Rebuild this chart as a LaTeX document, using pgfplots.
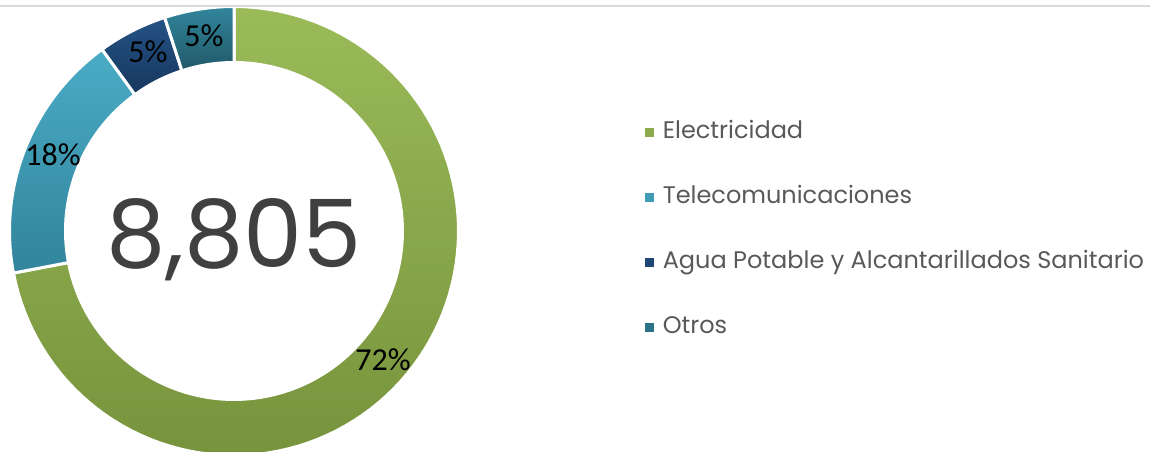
\documentclass[border=0pt]{standalone}
\usepackage{pgfplots}
\pgfplotsset{compat=1.18}
\usepackage{fontspec}
\setmainfont{Poppins}
\newfontfamily\calib{Carlito}
\definecolor{gEt}{HTML}{9BBB59}
\definecolor{gEb}{HTML}{77933C}
\definecolor{gTt}{HTML}{4BACC6}
\definecolor{gTb}{HTML}{31849B}
\definecolor{gAt}{HTML}{245285}
\definecolor{gAb}{HTML}{17375E}
\definecolor{gOt}{HTML}{31859C}
\definecolor{gOb}{HTML}{215968}
\definecolor{txtg}{HTML}{595959}
\definecolor{numg}{HTML}{404040}
\definecolor{lineg}{HTML}{D9D9D9}
% shares (percent)
\def\vE{72}\def\vT{18}\def\vA{5}\def\vO{5}
\pgfmathsetmacro\aE{90}
\pgfmathsetmacro\bE{\aE-3.6*\vE}
\pgfmathsetmacro\bT{\bE-3.6*\vT}
\pgfmathsetmacro\bA{\bT-3.6*\vA}
\pgfmathsetmacro\bO{\bA-3.6*\vO}
\begin{document}
\begin{tikzpicture}
\begin{axis}[
  name=main,
  x=0.75pt, y=0.75pt,
  xmin=0, xmax=1150, ymin=0, ymax=451,
  hide axis,
  declare function={
    ringang(\t,\a,\b)=ifthenelse(\t<1,\a+(\b-\a)*\t,ifthenelse(\t<2,\b,ifthenelse(\t<3,\b-(\b-\a)*(\t-2),\a)));
    ringrad(\t)=ifthenelse(\t<1,224.5,ifthenelse(\t<2,224.5-56*(\t-1),ifthenelse(\t<3,168.5,168.5+56*(\t-3))));
  },
  legend style={at={(axis cs:641,221)}, anchor=west, draw=none, fill=none,
    font=\fontsize{18}{21}\selectfont, text=txtg, row sep=32.25pt,
    nodes={inner sep=0pt, text height=12.5pt, text depth=4pt},
    /tikz/every even column/.append style={column sep=0pt}},
  legend cell align=left,
]
\addplot[forget plot, draw=white, line width=2.25pt, line join=round, top color=gEt, bottom color=gEb, domain=0:4, samples=401, variable=\t]
  ({234+ringrad(\t)*cos(ringang(\t,\aE,\bE))}, {220+ringrad(\t)*sin(ringang(\t,\aE,\bE))});
\addplot[forget plot, draw=white, line width=2.25pt, line join=round, top color=gTt, bottom color=gTb, domain=0:4, samples=201, variable=\t]
  ({234+ringrad(\t)*cos(ringang(\t,\bE,\bT))}, {220+ringrad(\t)*sin(ringang(\t,\bE,\bT))});
\addplot[forget plot, draw=white, line width=2.25pt, line join=round, top color=gAt, bottom color=gAb, domain=0:4, samples=121, variable=\t]
  ({234+ringrad(\t)*cos(ringang(\t,\bT,\bA))}, {220+ringrad(\t)*sin(ringang(\t,\bT,\bA))});
\addplot[forget plot, draw=white, line width=2.25pt, line join=round, top color=gOt, bottom color=gOb, domain=0:4, samples=121, variable=\t]
  ({234+ringrad(\t)*cos(ringang(\t,\bA,\bO))}, {220+ringrad(\t)*sin(ringang(\t,\bA,\bO))});
\addlegendimage{legend image code/.code={\fill[gEt!60!gEb] (0pt,-3pt) rectangle (6pt,3pt);}}
\addlegendentry{\hspace{6.75pt}Electricidad}
\addlegendimage{legend image code/.code={\fill[gTt!60!gTb] (0pt,-3pt) rectangle (6pt,3pt);}}
\addlegendentry{\hspace{6.75pt}Telecomunicaciones}
\addlegendimage{legend image code/.code={\fill[gAt!60!gAb] (0pt,-3pt) rectangle (6pt,3pt);}}
\addlegendentry{\hspace{6.75pt}Agua Potable y Alcantarillados Sanitario}
\addlegendimage{legend image code/.code={\fill[gOt!60!gOb] (0pt,-3pt) rectangle (6pt,3pt);}}
\addlegendentry{\hspace{6.75pt}Otros}
\draw[lineg, line width=1.5pt] (axis cs:0,445) -- (axis cs:1150,445);
\node[anchor=base, text=numg, font=\fontsize{70.5}{70.5}\selectfont] at (axis cs:234,184) {8,805};
\node[anchor=base, font=\calib\fontsize{24}{24}\selectfont] at (axis cs:204,404) {5\%};
\node[anchor=base, font=\calib\fontsize{24}{24}\selectfont] at (axis cs:148,388) {5\%};
\node[anchor=base, font=\calib\fontsize{24}{24}\selectfont] at (axis cs:53,286) {18\%};
\node[anchor=base, font=\calib\fontsize{24}{24}\selectfont] at (axis cs:383,81) {72\%};
\end{axis}
\pgfresetboundingbox
\path (main.south west) rectangle (main.north east);
\end{tikzpicture}
\end{document}
